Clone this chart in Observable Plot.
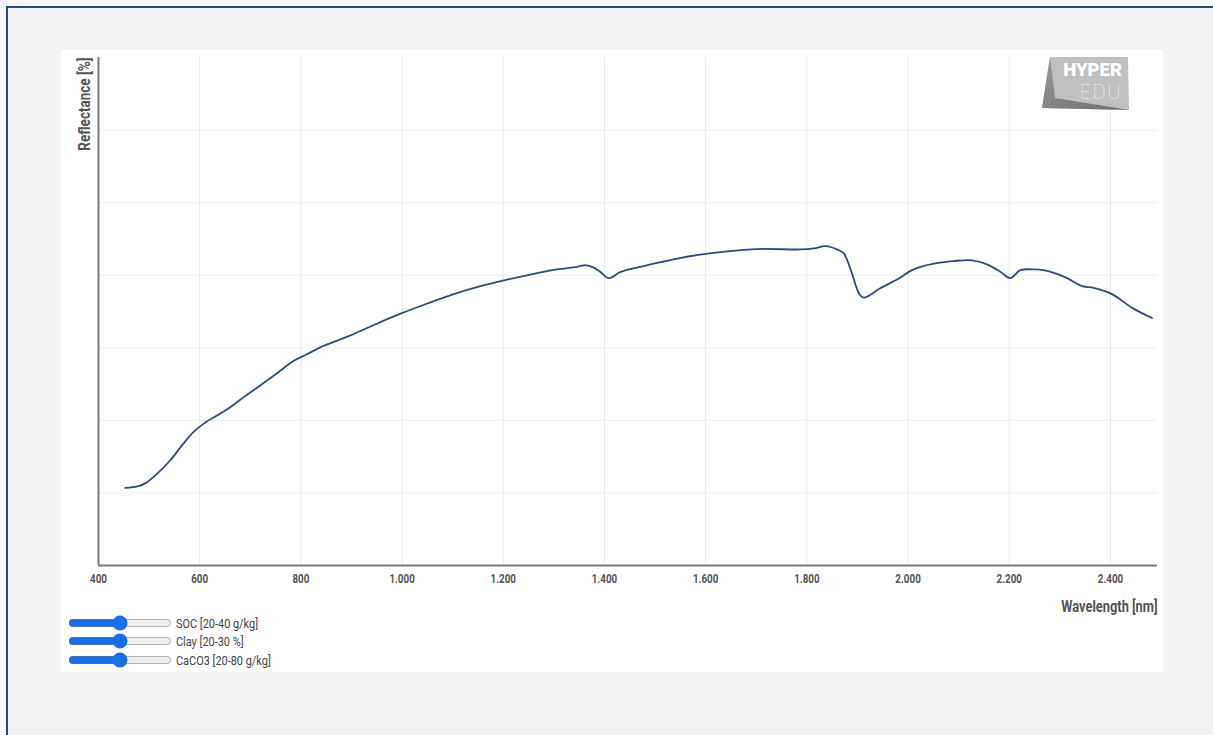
<!DOCTYPE html>
<html>
<head>
<meta charset="utf-8">
<script src="https://cdn.jsdelivr.net/npm/d3@7"></script>
<script src="https://cdn.jsdelivr.net/npm/@observablehq/plot@0.6"></script>
<style>
  html, body { margin: 0; padding: 0; }
  body {
    width: 1213px; height: 735px; overflow: hidden;
    background: #f3f5f4; position: relative;
    font-family: Roboto, "DejaVu Sans", sans-serif;
  }
  #frame {
    position: absolute; left: 6px; top: 6px; width: 1400px; height: 900px;
    border-left: 2.5px solid #24467a; border-top: 2.5px solid #24467a;
  }
  #panel {
    position: absolute; left: 61px; top: 50px; width: 1102px; height: 622px;
    background: #ffffff;
  }
  #chart { position: absolute; left: 0; top: 0; }
  #logo { position: absolute; left: 979px; top: 6px; }
  .ctrl {
    position: absolute; left: 7px; display: flex; align-items: center;
    font-size: 13px; color: #444; height: 16px;
  }
  .ctrl input { width: 104px; margin: 0 4px 0 0; height: 14px; accent-color: #1a6fe8; }
  .ctrl span { display: inline-block; transform: scaleX(0.84); transform-origin: left center; white-space: nowrap; }
</style>
</head>
<body>
<div id="frame"></div>
<div id="panel">
  <div id="chart"></div>
  <svg id="logo" width="92" height="58" viewBox="0 0 92 58">
    <defs>
      <linearGradient id="lg" x1="0" y1="0" x2="1" y2="1">
        <stop offset="0" stop-color="#9a9a9a"/>
        <stop offset="1" stop-color="#6e6e6e"/>
      </linearGradient>
    </defs>
    <polygon points="10,1 88,1 89,54 2,52" fill="#c0c0c0"/>
    <polygon points="10,1 2,52 89,54 15,42" fill="url(#lg)"/>
    <text x="82" y="20" text-anchor="end" font-family="Roboto, sans-serif" font-weight="900" font-size="18.5" fill="#ffffff">HYPER</text>
    <text x="82" y="43" text-anchor="end" font-family="Roboto, sans-serif" font-weight="100" font-size="20" letter-spacing="1.5" fill="#f2f2f2">EDU</text>
  </svg>
  <div class="ctrl" style="top:565px"><input type="range" min="0" max="100" value="50"><span>SOC [20-40 g/kg]</span></div>
  <div class="ctrl" style="top:583px"><input type="range" min="0" max="100" value="50"><span>Clay [20-30 %]</span></div>
  <div class="ctrl" style="top:602px"><input type="range" min="0" max="100" value="50"><span>CaCO3 [20-80 g/kg]</span></div>
</div>
<script>
// Soil reflectance spectrum (wavelength in nm, reflectance in %)
const wavelength = [453, 477, 493, 516, 542, 565, 588, 608, 635, 661, 687, 720, 753, 786, 812, 839,
  898, 951, 997, 1050, 1102, 1155, 1208, 1260, 1306, 1346, 1362, 1379, 1392, 1408, 1432, 1471,
  1511, 1544, 1589, 1700, 1787, 1814, 1837, 1863, 1873, 1886, 1903, 1912, 1945, 1978, 2011,
  2051, 2090, 2127, 2156, 2183, 2202, 2222, 2248, 2268, 2308, 2344, 2367, 2403, 2443, 2482];
const reflectance = [10.7, 10.9, 11.35, 12.65, 14.5, 16.55, 18.4, 19.55, 20.7, 21.85, 23.2, 24.85, 26.5, 28.2, 29.1, 30.1,
  31.7, 33.35, 34.7, 36.1, 37.4, 38.5, 39.4, 40.2, 40.8, 41.15, 41.4, 41.05, 40.45, 39.6, 40.45, 41.15,
  41.8, 42.3, 42.85, 43.6, 43.55, 43.7, 44.0, 43.45, 43.0, 40.9, 37.5, 36.9, 38.2, 39.4, 40.8,
  41.6, 41.95, 42.05, 41.5, 40.45, 39.6, 40.7, 40.8, 40.7, 39.8, 38.5, 38.25, 37.4, 35.5, 34.1];
const xTicks = [400, 600, 800, 1000, 1200, 1400, 1600, 1800, 2000, 2200, 2400];
const yGrid = [10, 20, 30, 40, 50, 60];

const spectrum = wavelength.map((w, i) => ({w, r: reflectance[i]}));
const fmt = d3.formatLocale({decimal: ",", thousands: ".", grouping: [3], currency: ["", ""]}).format(",");

const chart = Plot.plot({
  width: 1102,
  height: 575,
  marginLeft: 37,
  marginRight: 6,
  marginTop: 7,
  marginBottom: 60,
  style: {background: "transparent", fontFamily: "Roboto, sans-serif"},
  x: {domain: [400, 2493]},
  y: {domain: [0, 70]},
  marks: [
    Plot.gridX(xTicks.slice(1), {stroke: "#e9e9e9", strokeOpacity: 1}),
    Plot.gridY(yGrid, {stroke: "#eeeeee", strokeOpacity: 1}),
    Plot.ruleX([400], {stroke: "#7a7a7a", strokeWidth: 2}),
    Plot.ruleY([0], {stroke: "#7a7a7a", strokeWidth: 2}),
    Plot.axisX(xTicks, {tickSize: 0, tickPadding: 9, tickFormat: fmt, label: null,
      fontSize: 12, fill: "#555", fontWeight: "bold", className: "xticks"}),
    Plot.axisY({ticks: [], label: null}),
    Plot.line(spectrum, {x: "w", y: "r", curve: "catmull-rom", stroke: "#2e4c7e", strokeWidth: 1.8}),
    Plot.text(["Wavelength [nm]"], {frameAnchor: "bottom-right", dy: 46, textAnchor: "end",
      fontSize: 16.5, fontWeight: "bold", fill: "#555", className: "xtitle"}),
    Plot.text(["Reflectance [%]"], {frameAnchor: "top-left", dx: -20, rotate: -90, textAnchor: "end",
      fontSize: 16.5, fontWeight: "bold", fill: "#555", className: "ytitle"})
  ]
});

// Narrow the lettering to a condensed look (scaling about each text's anchor)
const narrow = (sel, k) => chart.querySelectorAll(sel + " text").forEach(t => {
  t.setAttribute("transform", (t.getAttribute("transform") || "") + ` scale(${k},1)`);
});
narrow(".xticks", 0.82);
narrow(".xtitle", 0.78);
narrow(".ytitle", 0.82);
document.getElementById("chart").appendChild(chart);
</script>
</body>
</html>
